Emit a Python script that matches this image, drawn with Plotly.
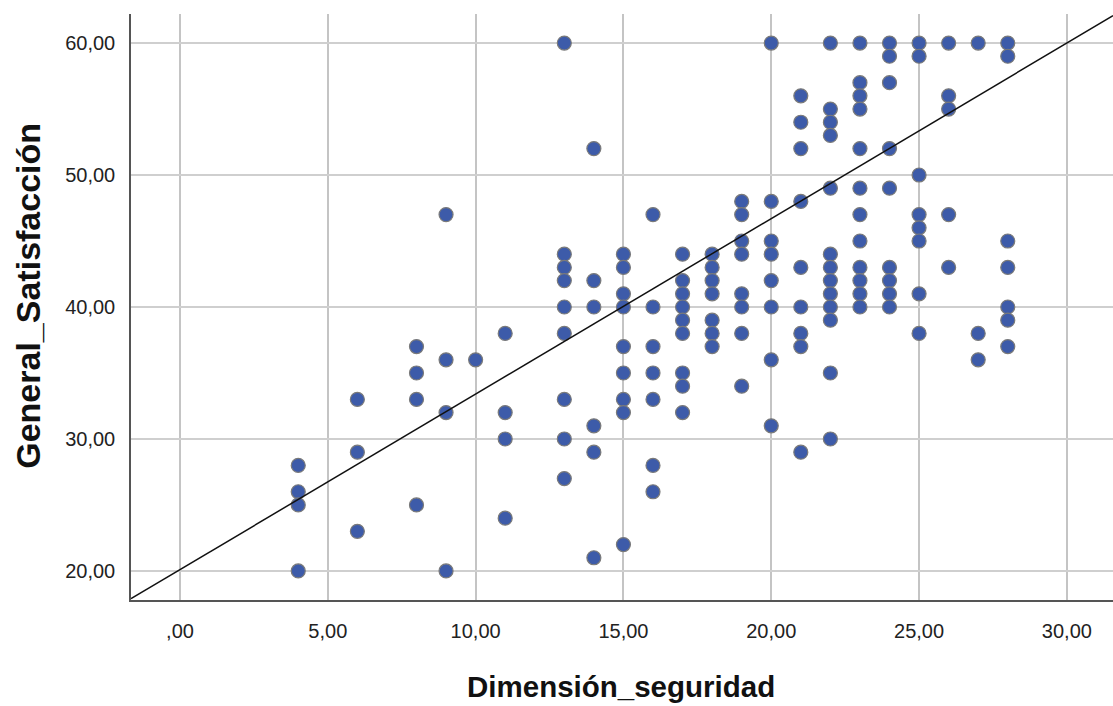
import plotly.graph_objects as go
import numpy as np

# Data
seguridad = (
    [4] * 4 + [6] * 3 + [8] * 4 + [9] * 4 + [10] * 1 + [11] * 4 +
    [13] * 9 + [14] * 6 + [15] * 9 + [16] * 7 + [17] * 9 + [18] * 7 +
    [19] * 8 + [20] * 8 + [21] * 9 + [22] * 13 + [23] * 12 + [24] * 9 +
    [25] * 8 + [26] * 5 + [27] * 3 + [28] * 7
)
satisfaccion = [
    28, 26, 25, 20,
    33, 29, 23,
    37, 35, 33, 25,
    47, 36, 32, 20,
    36,
    38, 32, 30, 24,
    60, 44, 43, 42, 40, 38, 33, 30, 27,
    52, 42, 40, 31, 29, 21,
    44, 43, 41, 40, 37, 35, 33, 32, 22,
    47, 40, 37, 35, 33, 28, 26,
    44, 42, 41, 40, 39, 38, 35, 34, 32,
    44, 43, 42, 41, 39, 38, 37,
    48, 47, 45, 44, 41, 40, 38, 34,
    60, 48, 45, 44, 42, 40, 36, 31,
    56, 54, 52, 48, 43, 40, 38, 37, 29,
    60, 55, 54, 53, 49, 44, 43, 42, 41, 40, 39, 35, 30,
    60, 57, 56, 55, 52, 49, 47, 45, 43, 42, 41, 40,
    60, 59, 57, 52, 49, 43, 42, 41, 40,
    60, 59, 50, 47, 46, 45, 41, 38,
    60, 56, 55, 47, 43,
    60, 38, 36,
    60, 59, 45, 43, 40, 39, 37,
]

fit_intercept = 20.1
fit_slope = 1.33

x_tickvals = [0, 5, 10, 15, 20, 25, 30]
x_ticktext = [",00", "5,00", "10,00", "15,00", "20,00", "25,00", "30,00"]
y_tickvals = [20, 30, 40, 50, 60]
y_ticktext = ["20,00", "30,00", "40,00", "50,00", "60,00"]

x_range = [-1.657, 31.56]
y_range = [17.8, 62.2]

x_line = np.array(x_range)
y_line = fit_intercept + fit_slope * x_line

fig = go.Figure()
fig.add_trace(go.Scatter(
    x=seguridad, y=satisfaccion, mode="markers",
    marker=dict(size=14, color="#3d5ba9", line=dict(color="#7a7a7a", width=1.2)),
    showlegend=False, hoverinfo="skip",
))
fig.add_trace(go.Scatter(
    x=x_line, y=y_line, mode="lines",
    line=dict(color="#111111", width=1.5),
    showlegend=False, hoverinfo="skip",
))

font_family = "Liberation Sans, Arial, sans-serif"

fig.update_layout(
    width=1113, height=706,
    margin=dict(l=131, r=0, t=14, b=106),
    paper_bgcolor="white", plot_bgcolor="white",
    font=dict(family=font_family, color="#222222"),
    xaxis=dict(
        range=x_range, tickvals=x_tickvals, ticktext=x_ticktext,
        showgrid=True, gridcolor="#c4c4c4", gridwidth=1.5,
        zeroline=False, showline=True, linecolor="#555555", linewidth=1.5,
        ticks="", tickfont=dict(size=20, color="#222222", family=font_family),
        ticklabelstandoff=12,
    ),
    yaxis=dict(
        range=y_range, tickvals=y_tickvals, ticktext=y_ticktext,
        showgrid=True, gridcolor="#cfcfcf", gridwidth=2,
        zeroline=False, showline=True, linecolor="#555555", linewidth=1.5,
        ticks="", tickfont=dict(size=20, color="#222222", family=font_family),
        ticklabelstandoff=10,
    ),
    annotations=[
        dict(text="<b>Dimensión_seguridad</b>", xref="paper", yref="paper",
             x=0.499, y=-0.147, xanchor="center", yanchor="middle",
             showarrow=False, font=dict(size=29.5, color="#111111", family=font_family)),
        dict(text="<b>General_Satisfacción</b>", xref="paper", yref="paper",
             x=-0.105, y=0.519, xanchor="center", yanchor="middle", textangle=-90,
             showarrow=False, font=dict(size=34, color="#111111", family=font_family)),
    ],
)

fig.write_html("out.html")
